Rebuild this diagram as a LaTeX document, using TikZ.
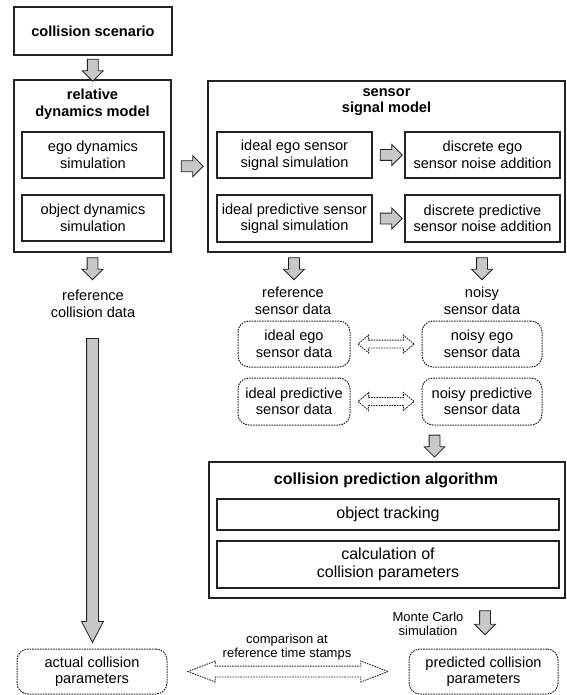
\documentclass[tikz,border=0pt]{standalone}
\usepackage{fontspec}
\setmainfont{Liberation Sans}
\usepackage{tikz}
\usetikzlibrary{
arrows.meta,
positioning,
shapes.arrows,
calc
}
\definecolor{simgray}{RGB}{200,200,200}
\definecolor{simline}{RGB}{35,35,35}

\begin{document}
\begin{tikzpicture}[
  x=1pt, y=-1pt,
  every node/.style={font=\fontsize{14.6}{16.5}\selectfont, align=center},
  box/.style={draw=simline, line width=1.3pt, inner sep=2pt},
  outerbox/.style={draw=simline, line width=1.3pt, inner sep=0pt},
  databox/.style={draw=simline, line width=1pt,
                  dash pattern=on 1.6pt off 1pt,
                  rounded corners=11pt, inner sep=2pt},
  boxtitle/.style={font=\fontsize{14.6}{16.5}\selectfont\bfseries},
  large/.style={font=\fontsize{16}{18}\selectfont},
  small/.style={font=\fontsize{13}{14}\selectfont},
  blockarrow/.style={single arrow, draw=simline, fill=simgray,
                     line width=0.8pt, inner sep=5pt,
                     minimum height=22pt,
                     single arrow head extend=5pt},
  downarrow/.style={blockarrow, shape border rotate=270},
  rightarrow/.style={blockarrow, shape border rotate=0},
  dataarrow/.style={double arrow, draw=simline, fill=white,
                    line width=0.9pt, dash pattern=on 1.6pt off 1pt,
                    inner sep=3.5pt, minimum height=56pt,
                    double arrow head extend=5pt, double arrow tip angle=80}
]

\useasboundingbox (0,0) rectangle (566,695);

%% Scenario and relative dynamics
\node[box, minimum width=158pt, minimum height=48pt,
      font=\fontsize{14.6}{16.5}\selectfont\bfseries] (scen) at (93,31)
  {collision scenario};

\node[outerbox, minimum width=157pt, minimum height=172pt] (rel) at (92.5,166) {};
\node[boxtitle] (reltitle) at (92.5,104) {relative\\dynamics model};
\node[box, minimum width=142pt, minimum height=46pt] (egodyn) at (93,155)
  {ego dynamics\\simulation};
\node[box, minimum width=142pt, minimum height=46pt] (objdyn) at (93,218)
  {object dynamics\\simulation};

\node[downarrow] (a1) at ($(scen.south)!0.5!(rel.north)$) {};

%% Sensor signal model
\node[outerbox, minimum width=357pt, minimum height=171pt] (sens) at (386.5,166.5) {};
\node[boxtitle] (senstitle) at (386.5,102) {sensor\\signal model};
\node[box, minimum width=155pt, minimum height=46pt] (idego) at (294.5,155)
  {ideal ego sensor\\signal simulation};
\node[box, minimum width=155pt, minimum height=46pt] (disego) at (482.5,155)
  {discrete ego\\sensor noise addition};
\node[box, minimum width=155pt, minimum height=47pt] (idpred) at (294.5,218.5)
  {ideal predictive sensor\\signal simulation};
\node[box, minimum width=155pt, minimum height=47pt] (dispred) at (482.5,218.5)
  {discrete predictive\\sensor noise addition};

\node[rightarrow] (a2) at ($(rel.east)!0.5!(sens.west)$) {};
\node[rightarrow] (a3) at ($(idego.east)!0.5!(disego.west)$) {};
\node[rightarrow] (a4) at ($(idpred.east)!0.5!(dispred.west)$) {};

%% Outputs of the models
\node[downarrow] (a5) at (92.5,266) {};
\node (refcoll) at (93,304) {reference\\collision data};
\node[downarrow] (a6) at (294,266) {};
\node (refdata) at (293,301) {reference\\sensor data};
\node[downarrow] (a7) at (482,266) {};
\node (noisydata) at (482,301) {noisy\\sensor data};

%% Sensor data
\node[databox, minimum width=112pt, minimum height=46pt] (idegodata) at (294,344)
  {ideal ego\\sensor data};
\node[databox, minimum width=120pt, minimum height=46pt] (noisyegodata) at (482,344)
  {noisy ego\\sensor data};
\node[databox, minimum width=112pt, minimum height=47pt] (idpreddata) at (294,401.5)
  {ideal predictive\\sensor data};
\node[databox, minimum width=120pt, minimum height=47pt] (noisypreddata) at (482,401.5)
  {noisy predictive\\sensor data};

\node[dataarrow] (d1) at ($(idegodata.east)!0.5!(noisyegodata.west)$) {};
\node[dataarrow] (d2) at ($(idpreddata.east)!0.5!(noisypreddata.west)$) {};

%% Collision prediction algorithm
\node[outerbox, minimum width=356pt, minimum height=136pt] (colpred) at (387,530) {};
\node[boxtitle, font=\fontsize{16}{18}\selectfont\bfseries] (colpredtitle)
  at (386,480) {collision prediction algorithm};
\node[box, large, minimum width=342pt, minimum height=31pt] (track) at (388,514.5)
  {object tracking};
\node[box, large, minimum width=342pt, minimum height=47pt] (calcpar) at (388,564.5)
  {calculation of\\collision parameters};

\node[downarrow] (a8) at ($(noisypreddata.south)!0.5!(colpred.north)$) {};

%% Results
\node[databox, minimum width=150pt, minimum height=45pt] (actual) at (92,671.5)
  {actual collision\\parameters};
\node[databox, minimum width=149pt, minimum height=45pt] (pred) at (483.5,671.5)
  {predicted collision\\parameters};

\node[downarrow, minimum height=24pt] (a9) at (485,620) {};
\node[small] (montecarlo) at (428,624) {Monte Carlo\\simulation};

\node[single arrow, draw=simline, fill=simgray, line width=0.8pt, inner sep=5.5pt,
      minimum height=304pt, single arrow head extend=5pt,
      single arrow tip angle=55, shape border rotate=270] (bigarr)
  at ($(refcoll.south)!0.5!(actual.north)$) {};

\node[dataarrow, inner sep=5pt, minimum height=200pt,
      double arrow tip angle=42] (cmp) at ($(actual.east)!0.5!(pred.west)$) {};
\node[small] (cmptext) at (287,647) {comparison at\\reference time stamps};

\end{tikzpicture}
\end{document}
